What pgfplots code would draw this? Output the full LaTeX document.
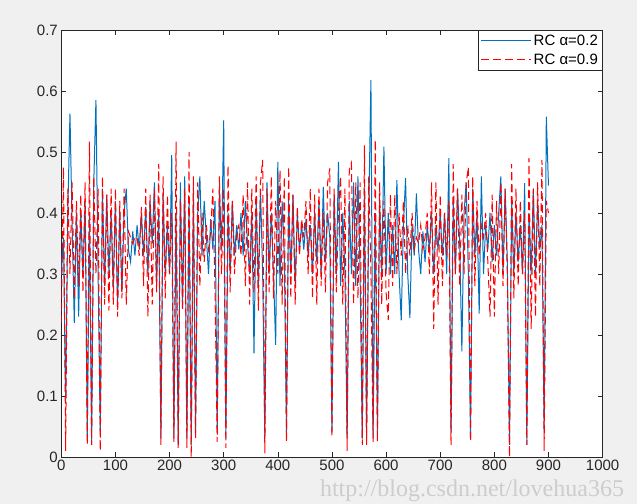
\documentclass[border=0pt]{standalone}
\usepackage{fontspec}
\setmainfont{Liberation Sans}
\newfontfamily\wmfont{Liberation Serif}
\usepackage{pgfplots}
\usepackage{pgfplotstable}
\pgfplotsset{compat=1.18}

\definecolor{mblue}{RGB}{0,114,189}
\definecolor{mred}{RGB}{255,0,0}
\definecolor{figbg}{RGB}{240,240,240}
\definecolor{axgray}{RGB}{38,38,38}
\definecolor{wmgray}{RGB}{205,205,205}

% x, RC alpha=0.2 (b), RC alpha=0.9 (r)
\pgfplotstableread{
x b r
0 0.30 0.22
4 0.36 0.475
8 0.09 0.01
12 0.40 0.44
16 0.563 0.30
20 0.38 0.45
24 0.22 0.26
28 0.40 0.42
32 0.23 0.28
36 0.40 0.43
40 0.30 0.27
44 0.42 0.45
48 0.03 0.02
52 0.40 0.517
56 0.02 0.02
60 0.45 0.46
64 0.585 0.30
68 0.30 0.44
72 0.04 0.01
76 0.44 0.46
80 0.28 0.25
84 0.43 0.43
88 0.30 0.24
92 0.40 0.44
96 0.28 0.25
100 0.42 0.44
104 0.25 0.23
108 0.40 0.42
112 0.27 0.26
116 0.40 0.44
120 0.44 0.25
124 0.34 0.37
128 0.32 0.36
132 0.37 0.35
136 0.33 0.36
140 0.38 0.36
144 0.34 0.33
148 0.40 0.41
152 0.33 0.28
156 0.41 0.44
160 0.30 0.23
164 0.42 0.43
168 0.35 0.25
172 0.45 0.44
176 0.28 0.27
180 0.40 0.48
184 0.03 0.02
188 0.43 0.46
192 0.30 0.26
196 0.38 0.43
200 0.30 0.30
204 0.495 0.40
208 0.03 0.025
212 0.40 0.517
216 0.02 0.015
220 0.45 0.42
224 0.25 0.24
228 0.46 0.44
232 0.03 0.015
236 0.42 0.50
240 0.02 0.00
244 0.44 0.46
248 0.04 0.03
252 0.40 0.45
256 0.46 0.28
260 0.33 0.40
264 0.42 0.32
268 0.36 0.38
272 0.30 0.34
276 0.39 0.37
280 0.34 0.44
284 0.42 0.27
288 0.04 0.025
292 0.44 0.46
296 0.34 0.30
300 0.552 0.44
304 0.03 0.015
308 0.40 0.478
312 0.30 0.27
316 0.42 0.42
320 0.33 0.30
324 0.38 0.37
328 0.34 0.38
332 0.40 0.33
336 0.33 0.43
340 0.42 0.28
344 0.35 0.45
348 0.30 0.25
352 0.40 0.44
356 0.17 0.27
360 0.42 0.46
364 0.28 0.24
368 0.44 0.45
372 0.30 0.487
376 0.03 0.006
380 0.45 0.44
384 0.30 0.27
388 0.40 0.46
392 0.30 0.26
396 0.184 0.42
400 0.484 0.30
404 0.28 0.47
408 0.42 0.25
412 0.33 0.46
416 0.04 0.025
420 0.42 0.476
424 0.30 0.26
428 0.43 0.43
432 0.28 0.25
436 0.40 0.41
440 0.34 0.33
444 0.38 0.39
448 0.34 0.36
452 0.39 0.42
456 0.33 0.30
460 0.38 0.44
464 0.30 0.26
468 0.40 0.43
472 0.32 0.25
476 0.42 0.44
480 0.30 0.28
484 0.443 0.40
488 0.32 0.27
492 0.40 0.45
496 0.36 0.473
500 0.04 0.033
504 0.43 0.44
508 0.30 0.27
512 0.484 0.40
516 0.28 0.46
520 0.40 0.25
524 0.30 0.44
528 0.03 0.01
532 0.42 0.47
536 0.30 0.482
540 0.45 0.25
544 0.28 0.45
548 0.46 0.26
552 0.30 0.45
556 0.03 0.02
560 0.44 0.511
564 0.03 0.02
568 0.40 0.46
572 0.618 0.30
576 0.03 0.025
580 0.40 0.52
584 0.04 0.025
588 0.42 0.45
592 0.30 0.25
596 0.509 0.42
600 0.30 0.27
604 0.40 0.225
608 0.30 0.43
612 0.38 0.28
616 0.30 0.43
620 0.454 0.30
624 0.30 0.40
628 0.224 0.33
632 0.38 0.42
636 0.457 0.30
640 0.30 0.38
644 0.228 0.33
648 0.38 0.40
652 0.33 0.34
656 0.432 0.36
660 0.34 0.35
664 0.30 0.38
668 0.37 0.34
672 0.32 0.36
676 0.38 0.40
680 0.34 0.30
684 0.40 0.45
688 0.30 0.21
692 0.38 0.45
696 0.34 0.25
700 0.40 0.43
704 0.33 0.28
708 0.40 0.40
712 0.30 0.33
716 0.49 0.42
720 0.04 0.02
724 0.42 0.48
728 0.30 0.30
732 0.44 0.44
736 0.35 0.28
740 0.173 0.43
744 0.40 0.30
748 0.45 0.45
752 0.30 0.475
756 0.03 0.025
760 0.44 0.46
764 0.33 0.28
768 0.40 0.42
772 0.235 0.33
776 0.46 0.38
780 0.30 0.36
784 0.38 0.40
788 0.34 0.32
792 0.40 0.23
796 0.32 0.43
800 0.38 0.23
804 0.33 0.42
808 0.40 0.30
812 0.46 0.45
816 0.30 0.28
820 0.44 0.44
824 0.32 0.30
828 0.02 0.00
832 0.42 0.48
836 0.30 0.26
840 0.40 0.44
844 0.32 0.28
848 0.38 0.42
852 0.30 0.30
856 0.449 0.40
860 0.02 0.02
864 0.40 0.49
868 0.30 0.21
872 0.44 0.44
876 0.30 0.23
880 0.42 0.45
884 0.34 0.28
888 0.38 0.487
892 0.04 0.01
896 0.558 0.42
900 0.445 0.40
}\datatable

\begin{document}
\begin{tikzpicture}
\fill[figbg] (-61.3bp,-47bp) rectangle (575.7bp,457bp);
\begin{axis}[
  at={(0,0)}, anchor=south west,
  scale only axis,
  width=541.3bp, height=427bp,
  xmin=0, xmax=1000, ymin=0, ymax=0.7,
  xtick={0,100,200,300,400,500,600,700,800,900,1000},
  ytick={0,0.1,0.2,0.3,0.4,0.5,0.6,0.7},
  tick align=inside, tick pos=both,
  major tick length=5bp,
  axis line style={axgray, line width=0.5bp},
  every tick/.style={axgray, line width=0.5bp},
  tick label style={font=\fontsize{15bp}{18bp}\selectfont, text=axgray},
  /pgf/number format/assume math mode=true,
  /pgf/number format/1000 sep={},
  yticklabel style={/pgf/number format/fixed},
  axis background/.style={fill=white},
  legend cell align=left,
  legend image code/.code={\draw[#1] (0bp,0bp) -- (50bp,0bp);},
  legend style={at={(1,1)}, anchor=north east, draw=axgray, fill=white,
    line width=0.5bp, font=\fontsize{15bp}{18bp}\selectfont,
    inner sep=2.5bp, row sep=3bp},
]
\addplot[mblue, line width=1bp] table[x=x, y=b] {\datatable};
\addplot[mred, line width=1bp, dash pattern=on 8bp off 4bp] table[x=x, y=r] {\datatable};
\legend{RC α=0.2, RC α=0.9}
\end{axis}
\node[text=wmgray, font=\wmfont\fontsize{24bp}{24bp}\selectfont] at (410.7bp,-34bp) {http://blog.csdn.net/lovehua365};
\pgfresetboundingbox
\useasboundingbox (-61.3bp,-47bp) rectangle (575.7bp,457bp);
\end{tikzpicture}
\end{document}
